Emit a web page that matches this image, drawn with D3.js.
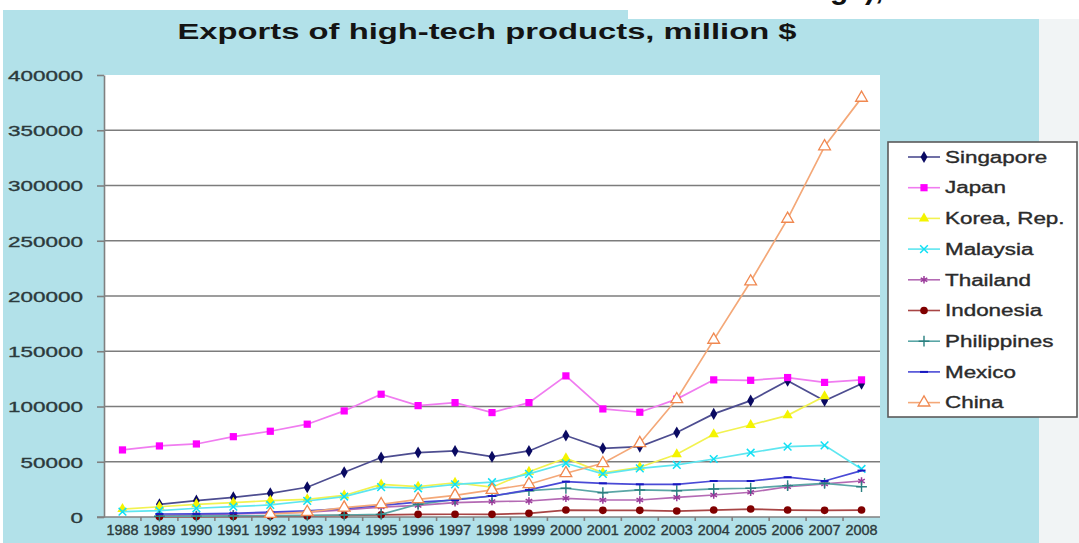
<html>
<head>
<script src="https://d3js.org/d3.v7.min.js"></script>
<style>
    body { margin: 0; background: #fff; }
    text { font-family: Arial, "Liberation Sans", sans-serif; }
    .grid line { stroke: #7c7c7c; stroke-width: 1.6px; }
    .axis path, .axis line { stroke: #808080; stroke-width: 1.6px; }
    .axis text { fill: #2c3a3c; stroke: #2c3a3c; stroke-width: 0.35px; }
</style>
</head>
<body>
<svg id="chart" width="1079" height="543"></svg>
<script>
// data (million $), null = no point
const years = ["1988","1989","1990","1991","1992","1993","1994","1995","1996","1997","1998",
               "1999","2000","2001","2002","2003","2004","2005","2006","2007","2008"];
const yTicks = [0, 50000, 100000, 150000, 200000, 250000, 300000, 350000, 400000];

const singapore   = [null, 11500, 14800, 17800, 21400, 26900, 40500, 53800, 58300, 59800, 54600, 59800, 73700, 62200, 63700, 76400, 93300, 105300, 123300, 105200, 120600];
const japan       = [60700, 64300, 66100, 72700, 77600, 84000, 96000, 111100, 100800, 103500, 94500, 103500, 127700, 97800, 94800, 106700, 124100, 123700, 126200, 121800, 124100];
const korea       = [7200, 9300, 11500, 13000, 14800, 16000, 19500, 29500, 27500, 31000, 27000, 41000, 53200, 40000, 45000, 56800, 74900, 83300, 92000, 109300, null];
const malaysia    = [4800, 5700, 7900, 9300, 10900, 14500, 18500, 27000, 26000, 29500, 31500, 39000, 48600, 39000, 44000, 47100, 52500, 58200, 63700, 64800, 43500];
const thailand    = [null, 1500, 2000, 2800, 3500, 4500, 6500, 9000, 10500, 13000, 14000, 14500, 16900, 15400, 15400, 17800, 19900, 22400, 27400, 30000, 32600];
const indonesia   = [null, 300, 400, 500, 800, 1000, 1500, 2000, 2400, 2500, 2400, 3300, 6300, 6000, 6000, 5400, 6300, 7200, 6300, 6000, 6300];
const philippines = [null, 700, 800, 1000, 1200, 1500, 1800, 2400, 11500, 16000, 19000, 23800, 26000, 22000, 24500, 23800, 25400, 26000, 28400, 30500, 27400];
const mexico      = [null, 2700, 2800, 3300, 4500, 5500, 7500, 10500, 13500, 15400, 19000, 24500, 32000, 30500, 29600, 29600, 32600, 32600, 36000, 32600, 42000];
const china       = [null, null, null, null, 2700, 4500, 8400, 11500, 16000, 19500, 24500, 29600, 39600, 48600, 66800, 106500, 160300, 213100, 269800, 335400, 379300];

const names  = ["Singapore", "Japan", "Korea, Rep.", "Malaysia", "Thailand", "Indonesia", "Philippines", "Mexico", "China"];
const values = [singapore, japan, korea, malaysia, thailand, indonesia, philippines, mexico, china];

// look of each series: line colour, marker colour, marker kind
const styles = [
    { line: "#4d4d90", mark: "#0a0a62", shape: "diamond" },
    { line: "#f07cf0", mark: "#ff00ff", shape: "square" },
    { line: "#f2f250", mark: "#f4f400", shape: "triangle" },
    { line: "#5ee6f0", mark: "#10e0f4", shape: "times" },
    { line: "#b46ab4", mark: "#9a3a9a", shape: "asterisk" },
    { line: "#a84545", mark: "#800000", shape: "circle" },
    { line: "#5aa6a6", mark: "#2a8080", shape: "plus" },
    { line: "#4a4ad6", mark: "#1818c0", shape: "dash" },
    { line: "#f4a878", mark: "#f08850", shape: "opentri" }
];

const svg = d3.select("#chart");

// backgrounds
svg.append("rect").attr("x", 0).attr("y", 0).attr("width", 1079).attr("height", 543).attr("fill", "#fff");
svg.append("rect").attr("x", 3).attr("y", 10).attr("width", 1036).attr("height", 533).attr("fill", "#b2e1e9");
svg.append("rect").attr("x", 1039).attr("y", 19).attr("width", 40).attr("height", 524).attr("fill", "#f1f4f5");
svg.append("rect").attr("x", 628).attr("y", 0).attr("width", 451).attr("height", 19).attr("fill", "#fff");

// cut-off text from above the picture
svg.append("clipPath").attr("id", "topclip")
    .append("rect").attr("x", 628).attr("y", 0).attr("width", 451).attr("height", 19);
svg.append("text")
    .attr("clip-path", "url(#topclip)")
    .attr("x", 830).attr("y", -1)
    .attr("font-size", 30).attr("font-weight", "bold").attr("fill", "#111")
    .text("ge),");

function stretch(sel, k) {
    sel.each(function () {
        const w = this.getComputedTextLength();
        this.setAttribute("textLength", w * k);
        this.setAttribute("lengthAdjust", "spacingAndGlyphs");
    });
}

// title
svg.append("text")
    .attr("x", 487).attr("y", 39)
    .attr("text-anchor", "middle")
    .attr("font-size", 22).attr("font-weight", "bold").attr("fill", "#141414")
    .attr("textLength", 619).attr("lengthAdjust", "spacingAndGlyphs")
    .text("Exports of high-tech products, million $");

const plotLeft = 104, plotRight = 880, plotTop = 75, plotBottom = 517;

const x = d3.scaleBand().domain(years).range([plotLeft, plotRight]).padding(0);
const y = d3.scaleLinear().domain([0, 400000]).range([plotBottom, plotTop]);
const cx = d => x(d) + x.bandwidth() / 2;

// plot area
svg.append("rect").attr("x", plotLeft).attr("y", plotTop)
    .attr("width", plotRight - plotLeft).attr("height", plotBottom - plotTop).attr("fill", "#fff");

// gridlines
svg.append("g").attr("class", "grid")
    .selectAll("line").data(yTicks.filter(t => t > 0 && t < 400000))
    .join("line")
    .attr("x1", plotLeft).attr("x2", plotRight)
    .attr("y1", d => y(d)).attr("y2", d => y(d));

// y axis
const yAxis = svg.append("g").attr("class", "axis")
    .attr("transform", `translate(${plotLeft},0)`)
    .call(d3.axisLeft(y).tickValues(yTicks).tickSize(7).tickSizeOuter(0).tickPadding(14).tickFormat(d3.format("d")));
yAxis.selectAll("text").attr("font-size", 15.5).attr("dy", "0.34em");
stretch(yAxis.selectAll("text"), 1.45);

// x axis: labels under each year, small ticks between years
const xAxis = svg.append("g").attr("class", "axis")
    .attr("transform", `translate(0,${plotBottom})`)
    .call(d3.axisBottom(x).tickSize(0).tickSizeOuter(0).tickPadding(10));
xAxis.select(".domain").attr("d", `M${plotLeft - 7},0H${plotRight}`);
xAxis.selectAll("text").attr("font-size", 14).attr("dy", "0.6em")
    .attr("textLength", 32).attr("lengthAdjust", "spacingAndGlyphs");
xAxis.selectAll("line.between").data(years.slice(1))
    .join("line").attr("class", "between")
    .attr("x1", d => x(d)).attr("x2", d => x(d))
    .attr("y1", 0).attr("y2", 4);

// markers
function drawMarker(g, st) {
    const c = st.mark;
    switch (st.shape) {
        case "diamond":
            g.append("path").attr("d", d3.symbol(d3.symbolDiamond, 42)()).attr("fill", c);
            break;
        case "square":
            g.append("path").attr("d", d3.symbol(d3.symbolSquare, 52)()).attr("fill", c);
            break;
        case "triangle":
            g.append("path").attr("d", d3.symbol(d3.symbolTriangle, 46)()).attr("fill", c);
            break;
        case "circle":
            g.append("path").attr("d", d3.symbol(d3.symbolCircle, 46)()).attr("fill", c);
            break;
        case "times":
            g.append("path").attr("d", d3.symbol(d3.symbolTimes || d3.symbolCross, 40)())
                .attr("fill", "none").attr("stroke", c).attr("stroke-width", 1.5);
            break;
        case "asterisk":
            g.append("path").attr("d", d3.symbol(d3.symbolAsterisk || d3.symbolCross, 40)())
                .attr("fill", "none").attr("stroke", c).attr("stroke-width", 1.5);
            break;
        case "plus":
            g.append("path").attr("d", d3.symbol(d3.symbolPlus || d3.symbolCross, 40)())
                .attr("fill", "none").attr("stroke", c).attr("stroke-width", 1.4);
            break;
        case "dash":
            g.append("path").attr("d", "M-4,0H4").attr("stroke", c).attr("stroke-width", 2);
            break;
        case "opentri":
            g.append("path").attr("d", d3.symbol(d3.symbolTriangle, 60)())
                .attr("fill", "#fff").attr("stroke", c).attr("stroke-width", 1.3);
            break;
    }
}

const line = d3.line()
    .defined(d => d.v != null)
    .x(d => cx(d.year))
    .y(d => y(d.v));

const plot = svg.append("g");
values.forEach((vals, i) => {
    const pts = years.map((yr, j) => ({ year: yr, v: vals[j] }));
    const st = styles[i];
    plot.append("path").datum(pts)
        .attr("fill", "none").attr("stroke", st.line).attr("stroke-width", 1.7)
        .attr("d", line);
    plot.append("g").selectAll("g").data(pts.filter(d => d.v != null))
        .join("g")
        .attr("transform", d => `translate(${cx(d.year)},${y(d.v)})`)
        .each(function () { drawMarker(d3.select(this), st); });
});

// legend
const legend = svg.append("g");
legend.append("rect").attr("x", 888).attr("y", 142).attr("width", 189).attr("height", 275)
    .attr("fill", "#fff").attr("stroke", "#5a5a5a").attr("stroke-width", 1.6);
const rows = legend.selectAll("g.row").data(names).join("g").attr("class", "row")
    .attr("transform", (d, i) => `translate(0,${157 + i * 30.7})`);
rows.append("line").attr("x1", 908).attr("x2", 940).attr("y1", 0).attr("y2", 0)
    .attr("stroke", (d, i) => styles[i].line).attr("stroke-width", 1.6);
rows.append("g").attr("transform", "translate(924,0)")
    .each(function (d, i) { drawMarker(d3.select(this), styles[i]); });
const legendText = rows.append("text").attr("x", 945).attr("y", 0).attr("dy", "0.36em")
    .attr("font-size", 16).attr("fill", "#2b2b2b")
    .attr("stroke", "#2b2b2b").attr("stroke-width", 0.35)
    .text(d => d);
stretch(legendText, 1.4);
</script>
</body>
</html>
